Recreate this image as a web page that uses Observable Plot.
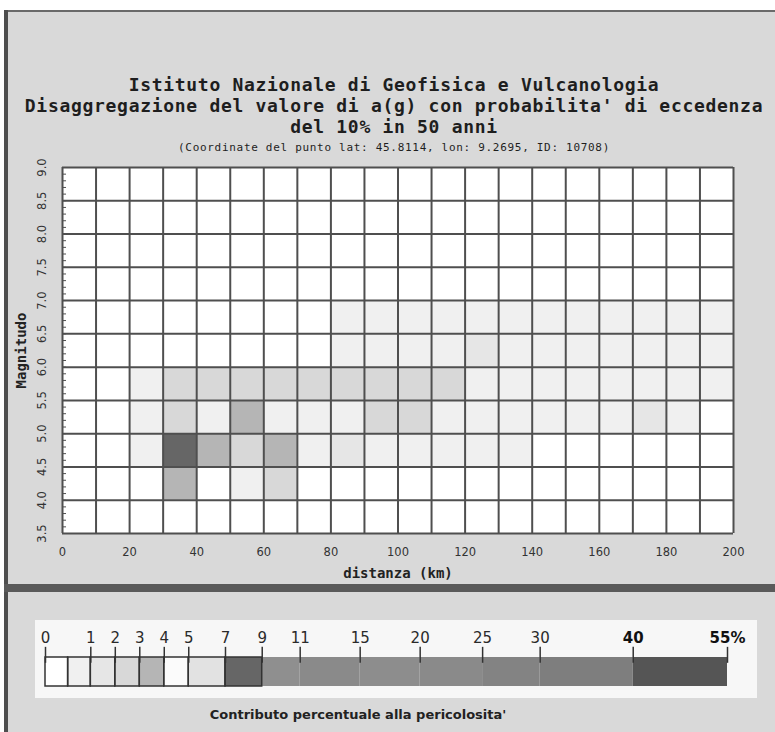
<!DOCTYPE html>
<html>
<head>
<meta charset="utf-8">
<script src="https://cdn.jsdelivr.net/npm/d3@7"></script>
<script src="https://cdn.jsdelivr.net/npm/@observablehq/plot@0.6"></script>
<style>
  body { margin: 0; background: #fff; }
  #page { position: relative; width: 775px; height: 732px; background: #d9d9d9; overflow: hidden; }
  .abs { position: absolute; }
  .title { left: 394px; transform: translateX(-50%); white-space: nowrap; text-align: center;
           font-family: "DejaVu Sans Mono", monospace; font-weight: bold; color: #1e1e1e; }
</style>
</head>
<body>
<div id="page">
  <div class="abs" style="left:0;top:0;width:775px;height:10px;background:#fff"></div>
  <div class="abs" style="left:0;top:0;width:4px;height:732px;background:#fff"></div>
  <div class="abs" style="left:4px;top:10px;width:771px;height:2px;background:#6a6a6a"></div>
  <div class="abs" style="left:4px;top:10px;width:4px;height:722px;background:#4e4e4e"></div>
  <div class="abs" style="left:4px;top:584px;width:771px;height:8px;background:#5a5a5a"></div>
  <div class="abs" style="left:35px;top:620px;width:722px;height:78px;background:#f7f7f7"></div>

  <div class="abs title" style="top:74px;font-size:18px;letter-spacing:0.7px;line-height:21px">Istituto Nazionale di Geofisica e Vulcanologia<br>Disaggregazione del valore di a(g) con probabilita' di eccedenza<br>del 10% in 50 anni</div>
  <div class="abs title" style="top:141px;font-size:11px;letter-spacing:0.7px;font-weight:normal;line-height:14px">(Coordinate del punto lat: 45.8114, lon: 9.2695, ID: 10708)</div>

  <div id="chart" class="abs" style="left:0;top:0"></div>
  <div id="legend" class="abs" style="left:0;top:590px"></div>
  <div class="abs" style="left:358px;top:707px;transform:translateX(-50%);white-space:nowrap;font-family:'DejaVu Sans',sans-serif;font-weight:bold;font-size:13px;color:#222">Contributo percentuale alla pericolosita'</div>
</div>
<script>
// ---- data ----
const distanze = [0, 10, 20, 30, 40, 50, 60, 70, 80, 90, 100, 110, 120, 130, 140, 150, 160, 170, 180, 190];
const magnitudo = [3.5, 4.0, 4.5, 5.0, 5.5, 6.0, 6.5, 7.0, 7.5, 8.0, 8.5];
// percent contribution, one row per magnitude bin (3.5 ... 8.5), one column per distance bin
const contributi = [
  [0, 0, 0, 0, 0, 0, 0, 0, 0, 0, 0, 0, 0, 0, 0, 0, 0, 0, 0, 0],
  [0, 0, 0.3, 3.5, 0.3, 0.7, 2.3, 0.3, 0.3, 0.2, 0.2, 0.2, 0.1, 0.1, 0.1, 0, 0, 0, 0, 0],
  [0, 0.1, 0.6, 8.2, 3.4, 2.4, 3.2, 0.9, 1.5, 0.8, 0.8, 0.7, 0.7, 0.6, 0.3, 0.3, 0.2, 0.2, 0.1, 0.1],
  [0, 0.2, 0.6, 2.6, 0.6, 3.5, 0.9, 0.9, 0.9, 2.1, 2.3, 0.8, 0.8, 0.7, 0.7, 0.8, 0.9, 1.2, 0.9, 0.3],
  [0, 0.2, 0.8, 2.2, 2.2, 2.1, 2.2, 2.0, 2.2, 2.2, 2.3, 2.5, 0.8, 0.8, 0.8, 0.8, 0.8, 0.8, 0.7, 0.7],
  [0, 0, 0.2, 0.3, 0.3, 0.3, 0.4, 0.4, 0.7, 0.8, 0.8, 0.8, 1.0, 0.8, 0.8, 0.8, 0.8, 0.8, 0.8, 0.8],
  [0, 0, 0, 0.4, 0.2, 0.2, 0.3, 0.3, 0.6, 0.7, 0.6, 0.6, 0.6, 0.6, 0.7, 0.7, 0.7, 0.8, 0.7, 0.7],
  [0, 0, 0, 0, 0, 0, 0.1, 0.1, 0.2, 0.2, 0.2, 0.2, 0.2, 0.3, 0.3, 0.3, 0.3, 0.3, 0.3, 0.3],
  [0, 0, 0, 0, 0, 0, 0, 0, 0, 0, 0, 0, 0, 0, 0, 0, 0, 0, 0, 0],
  [0, 0, 0, 0, 0, 0, 0, 0, 0, 0, 0, 0, 0, 0, 0, 0, 0, 0, 0, 0],
  [0, 0, 0, 0, 0, 0, 0, 0, 0, 0, 0, 0, 0, 0, 0, 0, 0, 0, 0, 0]
];
const bordiDistanza = [0, 10, 20, 30, 40, 50, 60, 70, 80, 90, 100, 110, 120, 130, 140, 150, 160, 170, 180, 190, 200];
const bordiMagnitudo = [3.5, 4.0, 4.5, 5.0, 5.5, 6.0, 6.5, 7.0, 7.5, 8.0, 8.5, 9.0];
const etichetteX = [0, 20, 40, 60, 80, 100, 120, 140, 160, 180, 200];
const etichetteY = [3.5, 4.0, 4.5, 5.0, 5.5, 6.0, 6.5, 7.0, 7.5, 8.0, 8.5, 9.0];
// colour classes (percent)
const soglie = [0.5, 1, 2, 3, 4, 5, 7, 9, 11, 15, 20, 25, 30, 40];
const grigi = ["#ffffff", "#f0f0f0", "#e6e6e6", "#d8d8d8", "#b5b5b5", "#fbfbfb", "#e2e2e2", "#666666",
               "#8f8f8f", "#8a8a8a", "#8d8d8d", "#8a8a8a", "#838383", "#7e7e7e", "#555555"];
const legendaBordi = [0, 0.5, 1, 2, 3, 4, 5, 7, 9, 11, 15, 20, 25, 30, 40, 55];
const legendaTacche = [0, 1, 2, 3, 4, 5, 7, 9, 11, 15, 20, 25, 30, 40, 55];

// ---- chart ----
const celle = magnitudo.flatMap((m, i) => distanze.map((d, j) => ({d0: d, d1: d + 10, m0: m, m1: m + 0.5, v: contributi[i][j]})));
const tacche = d3.range(35, 91).map(k => k / 10);
const grid = "#4f4f4f";
const mono = "DejaVu Sans Mono";

const chart = Plot.plot({
  width: 775, height: 584,
  marginTop: 167, marginBottom: 51, marginLeft: 62, marginRight: 42,
  style: {background: "none", overflow: "visible"},
  x: {domain: [0, 200], axis: null},
  y: {domain: [3.5, 9], axis: null},
  color: {type: "threshold", domain: soglie, range: grigi},
  marks: [
    Plot.frame({fill: "white", stroke: "none"}),
    Plot.rect(celle, {x1: "d0", x2: "d1", y1: "m0", y2: "m1", fill: "v"}),
    Plot.ruleX(bordiDistanza, {stroke: grid, strokeWidth: 2}),
    Plot.ruleY(bordiMagnitudo, {stroke: grid, strokeWidth: 2}),
    Plot.ruleY(tacche, {x1: 0, x2: 1.2, stroke: grid, strokeWidth: 1}),
    Plot.text(etichetteX, {x: d => d, y: 3.5, dy: 19, text: d => String(d), fontFamily: "DejaVu Sans", fontSize: 11.5, fill: "#333"}),
    Plot.text(etichetteY, {x: 0, y: d => d, dx: -20, rotate: -90, text: d => d.toFixed(1), fontFamily: "DejaVu Sans", fontSize: 11.5, fill: "#333"}),
    Plot.text(["distanza (km)"], {x: 100, y: 3.5, dy: 40, text: d => d, fontFamily: mono, fontWeight: "bold", fontSize: 14, fill: "#222"}),
    Plot.text(["Magnitudo"], {x: 0, y: 6.25, dx: -41, rotate: -90, text: d => d, fontFamily: mono, fontWeight: "bold", fontSize: 14, fill: "#222"})
  ]
});
document.getElementById("chart").append(chart);

// ---- legend ----
// the legend's value axis is non-uniform: piecewise-linear between its labelled ticks
const legendaScala = d3.scaleLinear(legendaTacche, [0, 1.85, 2.85, 3.85, 4.85, 5.85, 7.35, 8.85, 10.4, 12.85, 15.3, 17.85, 20.2, 24.0, 27.85]);
const bande = legendaBordi.slice(0, -1).map((lo, i) => ({lo, hi: legendaBordi[i + 1]}));
const legenda = Plot.plot({
  width: 775, height: 142, marginTop: 67, marginBottom: 46, marginLeft: 45, marginRight: 48,
  style: {background: "none", overflow: "visible"},
  x: {type: "linear", transform: legendaScala, domain: [0, 27.85], axis: null},
  y: {domain: [0, 1], range: [96, 67], axis: null},
  color: {type: "threshold", domain: soglie, range: grigi},
  marks: [
    Plot.rect(bande, {x1: "lo", x2: "hi", y1: 0, y2: 1, fill: "lo"}),
    Plot.rect(bande.filter(b => b.hi <= 9), {x1: "lo", x2: "hi", y1: 0, y2: 1, stroke: "#333", strokeWidth: 1.5, fill: "none"}),
    Plot.ruleX(legendaTacche, {x: d => d, y1: 0.8, y2: 1.35, stroke: "#333", strokeWidth: 1.5}),
    Plot.text(legendaTacche.filter(d => d < 40), {x: d => d, y: 1, dy: -19, text: d => String(d), fontFamily: "DejaVu Sans", fontSize: 15, fill: "#2a2a2a"}),
    Plot.text(legendaTacche.filter(d => d >= 40), {x: d => d, y: 1, dy: -19, text: d => d === 55 ? "55%" : String(d), fontFamily: "DejaVu Sans", fontWeight: "bold", fontSize: 15, fill: "#111"})
  ]
});
document.getElementById("legend").append(legenda);
</script>
</body>
</html>
